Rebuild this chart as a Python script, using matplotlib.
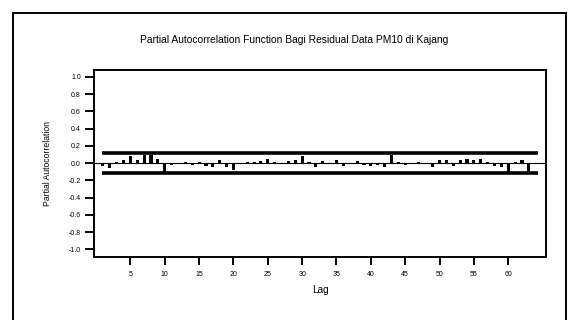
import matplotlib
matplotlib.use("Agg")
import matplotlib.pyplot as plt
from matplotlib.patches import Rectangle

plt.rcParams['font.family'] = ['Liberation Sans', 'DejaVu Sans']

title = "Partial Autocorrelation Function Bagi Residual Data PM10 di Kajang"
ylabel = "Partial Autocorrelation"
xlabel = "Lag"

lags = list(range(1, 64))
pacf = [-0.03, -0.06, 0.01, 0.03, 0.08, 0.03, 0.09, 0.09, 0.05, -0.10,
        -0.02, -0.01, 0.01, -0.02, 0.01, -0.03, -0.05, 0.03, -0.04, -0.08,
        -0.01, 0.01, 0.01, 0.02, 0.05, 0.01, -0.01, 0.02, 0.03, 0.08,
        0.01, -0.05, 0.02, -0.01, 0.04, -0.03, -0.01, 0.02, -0.02, -0.03,
        -0.02, -0.04, 0.09, 0.01, -0.02, -0.01, 0.01, -0.01, -0.05, 0.03,
        0.04, -0.03, 0.04, 0.05, 0.03, 0.05, 0.01, -0.03, -0.04, -0.10,
        0.01, 0.03, -0.10]
conf_limit = 0.115
conf_span = (0.9, 64.3)

xticks = [5, 10, 15, 20, 25, 30, 35, 40, 45, 50, 55, 60]
yticks = [-1.0, -0.8, -0.6, -0.4, -0.2, 0.0, 0.2, 0.4, 0.6, 0.8, 1.0]

W, H = 568, 320
fig = plt.figure(figsize=(W / 100, H / 100), dpi=100)

# outer frame
fig.patches.append(Rectangle((13 / W, -0.05), (566 - 13) / W, 1.05 - 13 / H,
                             transform=fig.transFigure, fill=False,
                             edgecolor='black', linewidth=1.4))

ax = fig.add_axes([94 / W, 1 - 257 / H, (546 - 94) / W, (257 - 70) / H])

ax.bar(lags, pacf, width=0.45, color='black', linewidth=0)
ax.axhline(0, color='black', linewidth=0.8)
ax.hlines([conf_limit, -conf_limit], conf_span[0], conf_span[1],
          color='black', linewidth=2.6)

ax.set_xlim(-0.3, 65.5)
ax.set_ylim(-1.09, 1.08)
ax.set_xticks(xticks)
ax.set_yticks(yticks)
ax.set_yticklabels([f"{v:.1f}" for v in yticks])
ax.tick_params(axis='y', length=6.5, width=1.4, labelsize=5, colors='black',
               pad=3)
ax.tick_params(axis='x', length=6, width=1.4, labelsize=5, colors='black',
               pad=4)
for s in ax.spines.values():
    s.set_linewidth(1.4)

ax.set_xlabel(xlabel, fontsize=7.2, labelpad=5)
ax.set_ylabel(ylabel, fontsize=6.2, labelpad=12)

fig.text(294 / W, 1 - 40 / H, title, ha='center', va='center', fontsize=7.35)

fig.savefig("out.png", dpi=100)
